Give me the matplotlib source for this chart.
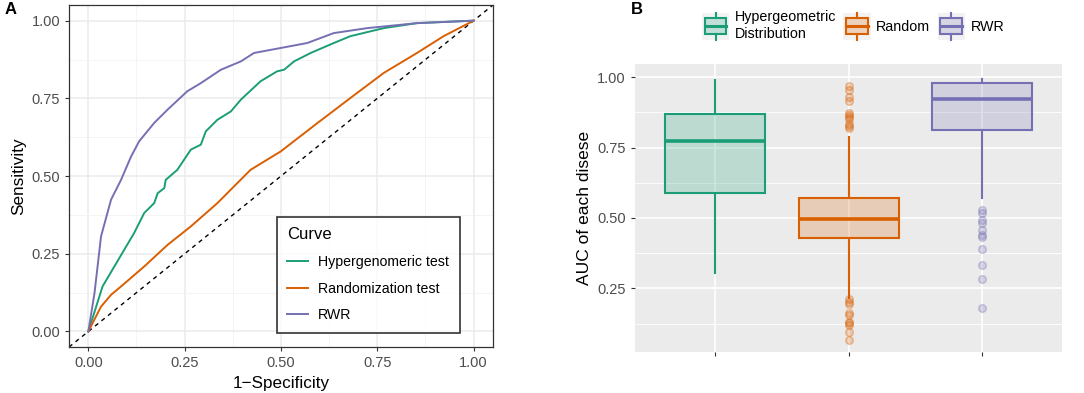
import matplotlib
matplotlib.use("Agg")
import matplotlib.pyplot as plt
from matplotlib.colors import to_rgba
from matplotlib.legend_handler import HandlerBase
from matplotlib.patches import Rectangle
from matplotlib.lines import Line2D

plt.rcParams['font.family'] = ['Liberation Sans', 'DejaVu Sans']

GREEN, ORANGE, PURPLE = "#1B9E77", "#D95F02", "#7570B3"

# ---- panel A: ROC curves ----
hyper_fpr = [0, 0.037, 0.119, 0.145, 0.171, 0.180, 0.197, 0.201, 0.231, 0.266, 0.292, 0.305,
             0.335, 0.370, 0.396, 0.447, 0.490, 0.508, 0.534, 0.577, 0.637, 0.680, 0.767, 0.853, 1.0]
hyper_tpr = [0, 0.145, 0.317, 0.381, 0.413, 0.445, 0.461, 0.488, 0.520, 0.585, 0.601, 0.644,
             0.681, 0.708, 0.746, 0.805, 0.837, 0.842, 0.869, 0.896, 0.928, 0.950, 0.976, 0.992, 1.0]
rand_fpr = [0, 0.033, 0.059, 0.085, 0.145, 0.206, 0.266, 0.335, 0.421, 0.499, 0.594, 0.680,
            0.767, 0.853, 0.922, 1.0]
rand_tpr = [0, 0.080, 0.118, 0.145, 0.209, 0.279, 0.338, 0.413, 0.520, 0.579, 0.670, 0.751,
            0.832, 0.896, 0.950, 1.0]
rwr_fpr = [0, 0.016, 0.024, 0.033, 0.059, 0.085, 0.111, 0.132, 0.171, 0.206, 0.257, 0.292,
           0.344, 0.396, 0.430, 0.499, 0.568, 0.637, 0.724, 0.853, 1.0]
rwr_tpr = [0, 0.123, 0.209, 0.306, 0.424, 0.488, 0.563, 0.612, 0.671, 0.714, 0.773, 0.799,
           0.842, 0.869, 0.896, 0.912, 0.928, 0.960, 0.976, 0.992, 1.0]
curve_labels = ["Hypergenomeric test", "Randomization test", "RWR"]

# ---- panel B: AUC per disease box summaries ----
box_labels = ["Hypergeometric\nDistribution", "Random", "RWR"]
box_q1 = [0.590, 0.428, 0.813]
box_med = [0.773, 0.496, 0.922]
box_q3 = [0.870, 0.572, 0.979]
box_lo = [0.303, 0.217, 0.571]
box_hi = [0.990, 0.787, 0.994]
box_fliers = [
    [],
    [0.970, 0.955, 0.929, 0.917, 0.872, 0.864, 0.858, 0.852, 0.835, 0.826, 0.818,
     0.211, 0.203, 0.195, 0.161, 0.155, 0.132, 0.126, 0.120, 0.096, 0.067],
    [0.530, 0.519, 0.492, 0.483, 0.457, 0.439, 0.433, 0.389, 0.333, 0.282, 0.179],
]

fig = plt.figure(figsize=(10.84, 3.93), dpi=100)
tick_col = "#4D4D4D"

# ===== A =====
ax = fig.add_axes([0.0637, 0.117, 0.391, 0.870])
ax.set_xlim(-0.05, 1.05)
ax.set_ylim(-0.05, 1.05)
ticks = [0, 0.25, 0.5, 0.75, 1.0]
ax.set_xticks(ticks)
ax.set_yticks(ticks)
ax.set_xticks([0.125, 0.375, 0.625, 0.875], minor=True)
ax.set_yticks([0.125, 0.375, 0.625, 0.875], minor=True)
ax.set_xticklabels([f"{t:.2f}" for t in ticks])
ax.set_yticklabels([f"{t:.2f}" for t in ticks])
ax.grid(True, which="major", color="#EBEBEB", lw=1.1)
ax.grid(True, which="minor", color="#F2F2F2", lw=0.6)
ax.set_axisbelow(True)
ax.tick_params(which="both", length=3, color="#333333", labelsize=10.5, labelcolor=tick_col)
ax.tick_params(which="minor", length=0)
for s in ax.spines.values():
    s.set_color("#333333")
    s.set_linewidth(0.9)
ax.plot([-0.05, 1.05], [-0.05, 1.05], ls=(0, (3, 3)), color="black", lw=1)
ax.plot(hyper_fpr, hyper_tpr, color=GREEN, lw=1.4, label=curve_labels[0])
ax.plot(rand_fpr, rand_tpr, color=ORANGE, lw=1.4, label=curve_labels[1])
ax.plot(rwr_fpr, rwr_tpr, color=PURPLE, lw=1.4, label=curve_labels[2])
ax.set_xlabel("1\u2212Specificity", fontsize=12.3)
ax.set_ylabel("Sensitivity", fontsize=12.3)
leg = ax.legend(title="Curve", loc="lower right", bbox_to_anchor=(0.922, 0.041),
                borderaxespad=0, fontsize=10.2, title_fontsize=12, frameon=True,
                fancybox=False, edgecolor="black", handlelength=1.5, borderpad=0.75,
                labelspacing=0.9, handletextpad=0.7)
leg.get_frame().set_linewidth(1.2)
leg._legend_box.align = "left"
fig.text(0.004, 0.975, "A", fontsize=12, fontweight="bold", va="center")

# ===== B =====
bx = fig.add_axes([0.5858, 0.104, 0.394, 0.733])
bx.set_facecolor("#EBEBEB")

colors = [GREEN, ORANGE, PURPLE]
for i, c in enumerate(colors):
    st = [dict(med=box_med[i], q1=box_q1[i], q3=box_q3[i], whislo=box_lo[i],
               whishi=box_hi[i], fliers=box_fliers[i])]
    bx.bxp(st, positions=[i + 1], widths=0.75, patch_artist=True, showcaps=False,
           boxprops=dict(facecolor=to_rgba(c, 0.22), edgecolor=c, lw=1.5),
           whiskerprops=dict(color=c, lw=1.5),
           medianprops=dict(color=c, lw=2.6),
           flierprops=dict(marker="o", markersize=5.5, markerfacecolor=to_rgba(c, 0.25),
                           markeredgecolor=to_rgba(c, 0.35), linestyle="none"))

bx.set_xlim(0.4, 3.6)
bx.set_ylim(0.0235, 1.0465)
bx.set_yticks(ticks[1:])
bx.set_yticklabels([f"{t:.2f}" for t in ticks[1:]])
bx.set_yticks([0.125, 0.375, 0.625, 0.875], minor=True)
bx.set_xticks([1, 2, 3])
bx.set_xticklabels(["", "", ""])
bx.grid(True, which="major", color="white", lw=1.2)
bx.grid(True, which="minor", axis="y", color="white", lw=0.6)
bx.set_axisbelow(True)
for s in bx.spines.values():
    s.set_visible(False)
bx.tick_params(which="major", length=3, color="#333333", labelsize=10.5, labelcolor=tick_col)
bx.tick_params(which="minor", length=0)
bx.set_ylabel("AUC of each disese", fontsize=12.5)


class BoxKey(HandlerBase):
    def __init__(self, color):
        super().__init__()
        self.color = color

    def create_artists(self, legend, orig, xd, yd, w, h, fs, trans):
        c = self.color
        bg = Rectangle((-xd, -yd - 4), w, h + 8, facecolor="#F2F2F2", edgecolor="none", transform=trans)
        bw = w * 0.8
        x0 = -xd + (w - bw) / 2
        box = Rectangle((x0, -yd), bw, h, facecolor=to_rgba(c, 0.22),
                        edgecolor=c, lw=1.5, transform=trans)
        med = Line2D([x0, x0 + bw], [-yd + h / 2] * 2, color=c, lw=2.2, transform=trans)
        cx = -xd + w / 2
        wt = Line2D([cx, cx], [-yd + h, -yd + h + 4], color=c, lw=1.5, transform=trans)
        wb = Line2D([cx, cx], [-yd - 4, -yd], color=c, lw=1.5, transform=trans)
        return [bg, box, med, wt, wb]


handles = [Rectangle((0, 0), 1, 1) for _ in colors]
fig.legend(handles, box_labels, loc="center", bbox_to_anchor=(0.787, 0.935), ncol=3,
           frameon=False, fontsize=10.3, handlelength=1.9, handleheight=1.3,
           columnspacing=0.5, handletextpad=0.4,
           handler_map={h: BoxKey(c) for h, c in zip(handles, colors)})
fig.text(0.582, 0.975, "B", fontsize=12, fontweight="bold", va="center")

fig.savefig("out.png", dpi=100)
